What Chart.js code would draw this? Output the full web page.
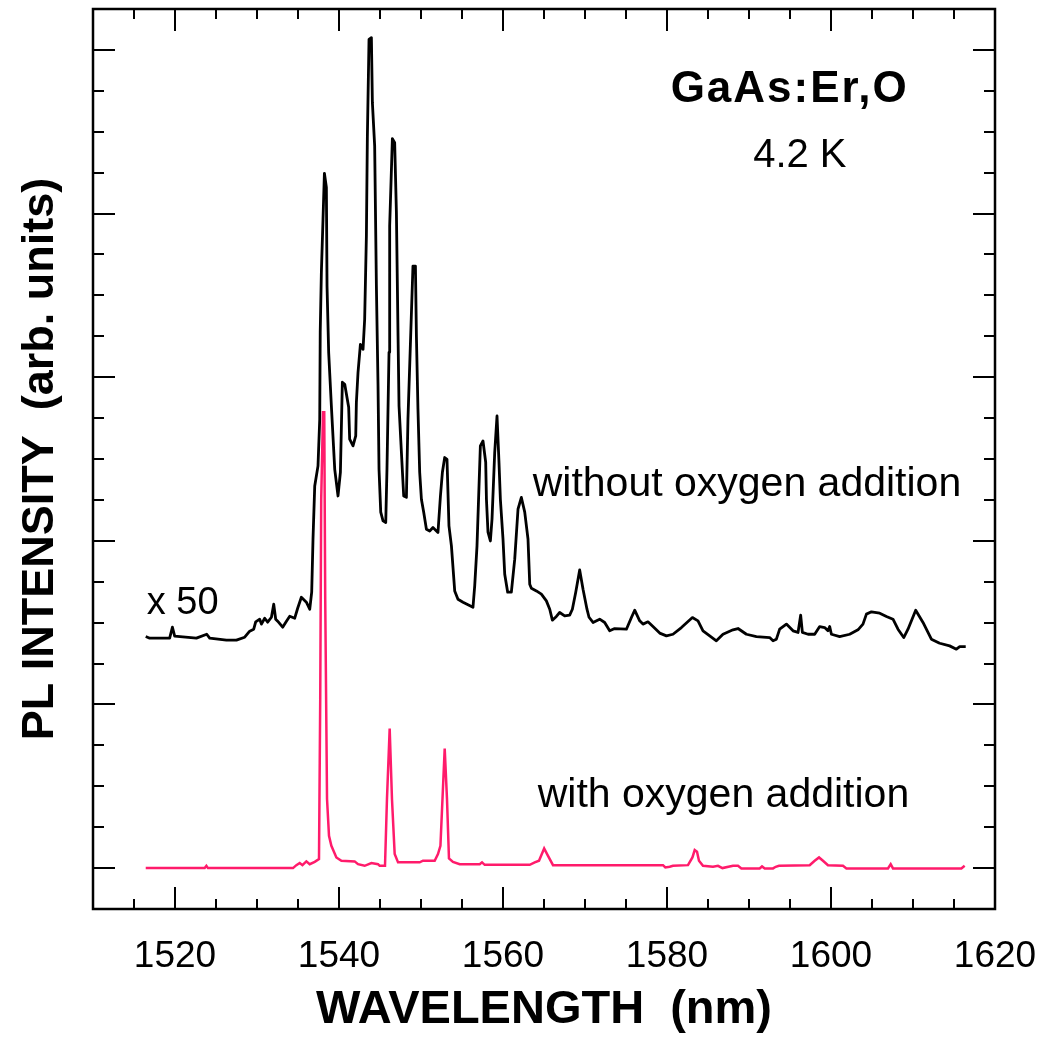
<!DOCTYPE html>
<html>
<head>
<meta charset="utf-8">
<script src="https://cdn.jsdelivr.net/npm/chart.js@4.4.1/dist/chart.umd.min.js"></script>
<style>
  html, body { margin: 0; padding: 0; background: #ffffff; }
  canvas { display: block; }
</style>
</head>
<body>
<canvas id="pl" width="1043" height="1038"></canvas>
<script>
// Wavelength tick labels (nm)
const wavelengthTicks = [1520, 1540, 1560, 1580, 1600, 1620];

// PL spectrum without oxygen addition (x50, offset)
const noOxWavelength = [
  1516.43, 1516.91, 1519.35, 1519.68, 1519.96, 1522.61, 1523.87, 1524.23, 1526.27, 1527.49,
  1528.50, 1529.11, 1529.60, 1529.84, 1530.33, 1530.54, 1530.94, 1531.30, 1531.76, 1532.04,
  1532.28, 1532.52, 1533.13, 1533.59, 1533.99, 1534.60, 1534.96, 1535.41, 1536.02, 1536.43,
  1536.67, 1536.83, 1537.04, 1537.44, 1537.65, 1537.71, 1537.85, 1538.05, 1538.22, 1538.46,
  1538.54, 1538.74, 1539.07, 1539.48, 1539.88, 1540.17, 1540.41, 1540.70, 1541.18, 1541.30,
  1541.71, 1542.04, 1542.12, 1542.32, 1542.61, 1542.93, 1543.13, 1543.34, 1543.46, 1543.66,
  1543.95, 1544.07, 1544.35, 1544.56, 1544.76, 1544.88, 1545.09, 1545.37, 1545.70, 1545.85,
  1546.10, 1546.18, 1546.51, 1546.79, 1547.00, 1547.20, 1547.32, 1547.61, 1547.89, 1548.22,
  1548.41, 1548.74, 1549.02, 1549.32, 1549.44, 1549.63, 1549.84, 1550.05, 1550.33, 1550.66,
  1551.06, 1551.46, 1551.67, 1552.07, 1552.37, 1552.61, 1552.89, 1553.17, 1553.41, 1553.71,
  1554.11, 1554.51, 1555.12, 1556.34, 1556.55, 1556.83, 1557.24, 1557.56, 1557.89, 1557.98,
  1558.17, 1558.46, 1558.66, 1558.99, 1559.27, 1559.51, 1559.68, 1560.00, 1560.21, 1560.57,
  1561.02, 1561.43, 1561.83, 1562.24, 1562.65, 1563.05, 1563.26, 1563.46, 1564.07, 1564.68,
  1565.29, 1565.70, 1566.02, 1566.51, 1566.91, 1567.52, 1568.13, 1568.46, 1568.87, 1569.35,
  1569.76, 1570.24, 1570.49, 1570.98, 1571.79, 1572.40, 1573.01, 1573.62, 1575.05, 1575.66,
  1576.06, 1576.67, 1577.07, 1577.68, 1578.29, 1579.11, 1579.93, 1580.73, 1581.76, 1583.10,
  1583.78, 1584.39, 1585.21, 1586.02, 1586.83, 1588.05, 1588.66, 1589.68, 1590.90, 1592.52,
  1592.93, 1593.34, 1593.74, 1594.56, 1595.37, 1595.98, 1596.30, 1596.51, 1597.20, 1598.01,
  1598.62, 1599.23, 1599.63, 1599.84, 1600.05, 1601.06, 1602.28, 1603.29, 1603.90, 1604.32,
  1604.93, 1605.94, 1606.76, 1607.56, 1608.17, 1608.87, 1609.39, 1610.33, 1611.22, 1612.24,
  1613.25, 1614.47, 1615.29, 1615.70, 1616.43
];
const noOxIntensity = [
  1.415, 1.405, 1.405, 1.472, 1.417, 1.405, 1.429, 1.405, 1.393, 1.393,
  1.411, 1.448, 1.460, 1.505, 1.521, 1.491, 1.527, 1.503, 1.533, 1.613,
  1.521, 1.509, 1.472, 1.509, 1.539, 1.527, 1.588, 1.655, 1.625, 1.582,
  1.686, 2.010, 2.335, 2.458, 2.743, 3.274, 3.641, 3.965, 4.246, 4.160,
  3.557, 3.152, 2.824, 2.437, 2.274, 2.419, 2.969, 2.957, 2.816, 2.621,
  2.580, 2.641, 2.847, 3.030, 3.201, 3.170, 3.354, 3.863, 4.473, 5.064,
  5.075, 4.679, 4.412, 3.557, 2.946, 2.437, 2.175, 2.122, 2.112, 2.437,
  3.152, 3.924, 4.458, 4.433, 4.007, 3.252, 2.824, 2.541, 2.274, 2.266,
  2.743, 3.252, 3.679, 3.679, 3.252, 2.804, 2.419, 2.254, 2.175, 2.071,
  2.060, 2.081, 2.071, 2.051, 2.274, 2.419, 2.509, 2.498, 2.091, 1.969,
  1.694, 1.643, 1.625, 1.594, 1.725, 1.969, 2.580, 2.610, 2.480, 2.254,
  2.053, 1.999, 2.132, 2.541, 2.763, 2.480, 2.254, 2.010, 1.796, 1.686,
  1.686, 1.888, 2.193, 2.265, 2.175, 2.010, 1.735, 1.710, 1.694, 1.674,
  1.633, 1.582, 1.515, 1.538, 1.562, 1.541, 1.546, 1.582, 1.686, 1.822,
  1.704, 1.582, 1.533, 1.501, 1.521, 1.501, 1.450, 1.464, 1.460, 1.531,
  1.576, 1.511, 1.491, 1.505, 1.476, 1.436, 1.419, 1.429, 1.470, 1.531,
  1.511, 1.450, 1.419, 1.389, 1.429, 1.456, 1.464, 1.429, 1.415, 1.409,
  1.389, 1.399, 1.460, 1.491, 1.450, 1.440, 1.546, 1.440, 1.429, 1.429,
  1.476, 1.470, 1.450, 1.476, 1.429, 1.415, 1.429, 1.456, 1.491, 1.552,
  1.566, 1.558, 1.538, 1.521, 1.460, 1.409, 1.460, 1.576, 1.501, 1.399,
  1.374, 1.358, 1.338, 1.354, 1.354
];

// PL spectrum with oxygen addition
const withOxWavelength = [
  1516.43, 1523.62, 1523.83, 1524.02, 1534.39, 1534.80, 1535.21, 1535.54, 1536.02, 1536.43,
  1537.04, 1537.56, 1537.71, 1537.83, 1538.05, 1538.20, 1538.32, 1538.54, 1538.78, 1539.07,
  1539.68, 1540.29, 1541.91, 1542.32, 1543.13, 1543.95, 1544.76, 1544.96, 1545.61, 1545.85,
  1546.18, 1546.46, 1546.79, 1547.20, 1549.84, 1550.24, 1551.67, 1552.07, 1552.37, 1552.89,
  1553.17, 1553.41, 1553.90, 1554.72, 1557.16, 1557.44, 1557.77, 1563.26, 1563.87, 1564.39,
  1565.02, 1565.49, 1566.10, 1579.51, 1579.80, 1580.33, 1580.73, 1582.56, 1583.10, 1583.38,
  1583.66, 1583.90, 1584.39, 1585.61, 1586.22, 1586.76, 1588.05, 1588.66, 1589.07, 1591.30,
  1591.59, 1591.92, 1592.93, 1593.26, 1593.66, 1597.40, 1598.01, 1598.54, 1599.02, 1599.63,
  1601.46, 1601.88, 1606.95, 1607.28, 1607.56, 1615.90, 1616.30
];
const withOxIntensity = [
  0.000, 0.000, 0.014, 0.000, 0.000, 0.018, 0.031, 0.018, 0.041, 0.024,
  0.038, 0.055, 1.032, 2.254, 2.786, 2.786, 1.643, 0.422, 0.197, 0.136,
  0.065, 0.045, 0.041, 0.024, 0.014, 0.031, 0.024, 0.014, 0.014, 0.422,
  0.853, 0.422, 0.086, 0.035, 0.035, 0.045, 0.045, 0.086, 0.136, 0.731,
  0.422, 0.059, 0.038, 0.024, 0.024, 0.035, 0.020, 0.020, 0.035, 0.045,
  0.120, 0.075, 0.018, 0.018, 0.004, 0.008, 0.014, 0.018, 0.065, 0.110,
  0.100, 0.045, 0.014, 0.008, 0.014, 0.000, 0.014, 0.014, -0.002, -0.002,
  0.010, -0.002, -0.002, 0.008, 0.014, 0.018, 0.045, 0.065, 0.045, 0.018,
  0.014, -0.002, -0.002, 0.024, -0.002, -0.002, 0.014
];

// Axis ranges and tick steps
const xRange = [1510, 1620];
const yRange = [-0.25, 5.25];
const xMinorStep = 5, xMajorStep = 20;
const yMinorStep = 0.25, yMajorStep = 1;

// Text annotations inside the plot (anchored in data coordinates)
const annotations = [
  { text: 'GaAs:Er,O', x: 1594.96, y: 4.679, size: 44, weight: 'bold', spacing: '2px', align: 'center' },
  { text: '4.2 K', x: 1596.2, y: 4.282, size: 40, weight: 'normal', spacing: '0px', align: 'center' },
  { text: 'without oxygen addition', x: 1563.62, y: 2.272, size: 41, weight: 'normal', spacing: '0px', align: 'left' },
  { text: 'with oxygen addition', x: 1564.23, y: 0.373, size: 41, weight: 'normal', spacing: '0px', align: 'left' },
  { text: 'x 50', x: 1516.55, y: 1.552, size: 38, weight: 'normal', spacing: '0px', align: 'left' }
];

const FONT = '"Liberation Sans", Arial, sans-serif';
const toPoints = (xs, ys) => xs.map((v, i) => ({ x: v, y: ys[i] }));

const whiteBackground = {
  id: 'whiteBackground',
  beforeDraw(chart) {
    const { ctx, width, height } = chart;
    ctx.save();
    ctx.fillStyle = '#ffffff';
    ctx.fillRect(0, 0, width, height);
    ctx.restore();
  }
};

// Closed frame with inward-pointing ticks on all four sides
const frameTicks = {
  id: 'frameTicks',
  afterDatasetsDraw(chart) {
    const { ctx, chartArea: a, scales: { x, y } } = chart;
    ctx.save();
    ctx.strokeStyle = '#000000';
    ctx.lineWidth = 2;
    ctx.lineCap = 'butt';
    ctx.beginPath();
    const nx = Math.round((xRange[1] - xRange[0]) / xMinorStep);
    for (let k = 1; k < nx; k++) {
      const v = xRange[0] + k * xMinorStep;
      const px = Math.round(x.getPixelForValue(v));
      const len = (v % xMajorStep === 0) ? 22 : 10;
      ctx.moveTo(px, a.bottom); ctx.lineTo(px, a.bottom - len);
      ctx.moveTo(px, a.top); ctx.lineTo(px, a.top + len);
    }
    const ny = Math.round((yRange[1] - yRange[0]) / yMinorStep);
    for (let k = 1; k < ny; k++) {
      const v = yRange[0] + k * yMinorStep;
      const py = Math.round(y.getPixelForValue(v));
      const major = Math.abs(v / yMajorStep - Math.round(v / yMajorStep)) < 1e-6;
      const len = major ? 22 : 11;
      ctx.moveTo(a.left, py); ctx.lineTo(a.left + len, py);
      ctx.moveTo(a.right, py); ctx.lineTo(a.right - len, py);
    }
    ctx.stroke();
    ctx.lineWidth = 2.5;
    ctx.strokeRect(a.left, a.top, a.right - a.left, a.bottom - a.top);
    ctx.restore();
  }
};

const plotText = {
  id: 'plotText',
  afterDatasetsDraw(chart) {
    const { ctx, scales: { x, y } } = chart;
    ctx.save();
    ctx.fillStyle = '#000000';
    ctx.textBaseline = 'alphabetic';
    annotations.forEach(t => {
      ctx.font = `${t.weight} ${t.size}px ${FONT}`;
      if ('letterSpacing' in ctx) ctx.letterSpacing = t.spacing;
      ctx.textAlign = t.align;
      ctx.fillText(t.text, x.getPixelForValue(t.x), y.getPixelForValue(t.y));
    });
    ctx.restore();
  }
};

new Chart(document.getElementById('pl'), {
  type: 'scatter',
  data: {
    datasets: [
      {
        label: 'with oxygen addition',
        data: toPoints(withOxWavelength, withOxIntensity),
        showLine: true,
        borderColor: '#ff1b6b',
        borderWidth: 2.5,
        pointRadius: 0,
        tension: 0
      },
      {
        label: 'without oxygen addition',
        data: toPoints(noOxWavelength, noOxIntensity),
        showLine: true,
        borderColor: '#000000',
        borderWidth: 2.8,
        borderJoinStyle: 'round',
        pointRadius: 0,
        tension: 0
      }
    ]
  },
  options: {
    responsive: false,
    animation: false,
    events: [],
    layout: { padding: { top: 9, right: 48, left: 0, bottom: 0 } },
    plugins: { legend: { display: false }, tooltip: { enabled: false } },
    scales: {
      x: {
        type: 'linear',
        min: xRange[0],
        max: xRange[1],
        afterBuildTicks(scale) { scale.ticks = wavelengthTicks.map(v => ({ value: v })); },
        afterFit(scale) { scale.height = 129; scale.paddingLeft = 0; scale.paddingRight = 0; },
        grid: { display: false, drawTicks: false },
        border: { display: false },
        ticks: {
          color: '#000000',
          padding: 29,
          maxRotation: 0,
          autoSkip: false,
          callback: v => String(v),
          font: { family: FONT, size: 37, lineHeight: 1 }
        },
        title: {
          display: true,
          text: 'WAVELENGTH  (nm)',
          color: '#000000',
          padding: { top: 0, bottom: 4 },
          font: { family: FONT, size: 47, weight: 'bold', lineHeight: 1 }
        }
      },
      y: {
        type: 'linear',
        min: yRange[0],
        max: yRange[1],
        afterFit(scale) { scale.width = 93; scale.paddingTop = 0; scale.paddingBottom = 0; },
        grid: { display: false, drawTicks: false },
        border: { display: false },
        ticks: { display: false },
        title: {
          display: true,
          text: 'PL INTENSITY  (arb. units)',
          color: '#000000',
          padding: { top: 18, bottom: 0 },
          font: { family: FONT, size: 45, weight: 'bold', lineHeight: 1 }
        }
      }
    }
  },
  plugins: [whiteBackground, frameTicks, plotText]
});
</script>
</body>
</html>
